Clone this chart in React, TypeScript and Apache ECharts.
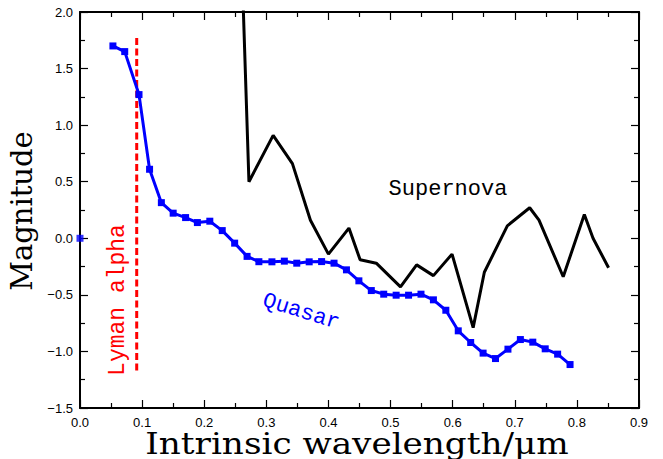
import React, { useEffect, useRef } from "react";
import * as echarts from "echarts";

// Quasar photometry (intrinsic wavelength in µm, magnitude)
const quasarWavelength = [
  0.053, 0.072, 0.095, 0.112, 0.131, 0.150, 0.170, 0.189, 0.209, 0.229,
  0.249, 0.269, 0.288, 0.309, 0.329, 0.349, 0.369, 0.389, 0.409, 0.429,
  0.449, 0.469, 0.489, 0.509, 0.529, 0.549, 0.569, 0.589, 0.609, 0.629,
  0.649, 0.669, 0.689, 0.709, 0.729, 0.749, 0.769, 0.789,
];
const quasarMagnitude = [
  1.70, 1.65, 1.27, 0.61, 0.315, 0.222, 0.183, 0.139, 0.151, 0.068,
  -0.043, -0.16, -0.207, -0.208, -0.202, -0.22, -0.208, -0.206, -0.22, -0.279,
  -0.376, -0.462, -0.494, -0.503, -0.503, -0.494, -0.544, -0.636, -0.818, -0.921,
  -1.015, -1.063, -0.98, -0.895, -0.918, -0.977, -1.024, -1.116,
];

// Isolated reference point at the origin
const originPoint = [0, 0];

// Supernova spectrum (first point lies above the plotted range)
const supernovaWavelength = [
  0.255, 0.272, 0.311, 0.342, 0.371, 0.400, 0.433, 0.451, 0.477, 0.516,
  0.542, 0.569, 0.599, 0.633, 0.651, 0.688, 0.724, 0.739, 0.778, 0.812,
  0.826, 0.851,
];
const supernovaMagnitude = [
  3.36, 0.50, 0.91, 0.66, 0.16, -0.14, 0.09, -0.19, -0.22, -0.43,
  -0.235, -0.33, -0.14, -0.79, -0.30, 0.11, 0.27, 0.16, -0.34, 0.21,
  0.0, -0.26,
];

// Lyman alpha marker line
const lymanAlphaWavelength = 0.0913;
const lymanAlphaRange = [1.77, -1.18];

// Axis ranges
const xRange = [0, 0.9];
const xStep = 0.1;
const yRange = [-1.5, 2.0];
const yStep = 0.5;

const TICK_FONT = "Liberation Sans";
const SERIF = "DejaVu Serif";
const MONO = "Liberation Mono";

const fmt = (v: number) => v.toFixed(1).replace("-", "\u2212");

export default function App() {
  const ref = useRef<HTMLDivElement>(null);

  useEffect(() => {
    if (!ref.current) return;
    const chart = echarts.init(ref.current, undefined, { renderer: "svg" });

    const axisLine = { show: true, onZero: false, lineStyle: { color: "#000", width: 2 } };
    const axisTick = { show: true, inside: true, length: 8, lineStyle: { color: "#000", width: 1.2 } };
    const minorTick = { show: true, splitNumber: 2, length: 5, lineStyle: { color: "#000", width: 1.2 } };

    const xBase = {
      type: "value" as const,
      min: xRange[0],
      max: xRange[1],
      interval: xStep,
      axisLine,
      axisTick,
      minorTick,
      splitLine: { show: false },
    };
    const yBase = {
      type: "value" as const,
      min: yRange[0],
      max: yRange[1],
      interval: yStep,
      axisLine,
      axisTick,
      minorTick,
      splitLine: { show: false },
    };

    const tickLabel = {
      color: "#000",
      fontFamily: TICK_FONT,
      fontSize: 13,
      lineHeight: 13,
      formatter: fmt,
    };

    chart.setOption({
      animation: false,
      backgroundColor: "#fff",
      grid: { left: 80, right: 24, top: 12, bottom: 51, containLabel: false },
      xAxis: [
        { ...xBase, position: "bottom", axisLabel: { ...tickLabel, margin: 8 } },
        { ...xBase, position: "top", axisLabel: { show: false } },
      ],
      yAxis: [
        { ...yBase, position: "left", axisLabel: { ...tickLabel, margin: 7 } },
        { ...yBase, position: "right", axisLabel: { show: false } },
      ],
      series: [
        {
          name: "Lyman alpha",
          type: "line",
          data: lymanAlphaRange.map((m) => [lymanAlphaWavelength, m]),
          symbol: "none",
          lineStyle: { color: "#ff0000", width: 3, type: [7, 3.5] },
          z: 3,
        },
        {
          name: "Supernova",
          type: "line",
          data: supernovaWavelength.map((w, i) => [w, supernovaMagnitude[i]]),
          symbol: "none",
          clip: true,
          lineStyle: { color: "#000", width: 3 },
          z: 4,
        },
        {
          name: "Quasar",
          type: "line",
          data: quasarWavelength.map((w, i) => [w, quasarMagnitude[i]]),
          symbol: "rect",
          symbolSize: 7,
          itemStyle: { color: "#0000ff" },
          lineStyle: { color: "#0000ff", width: 3 },
          z: 5,
        },
        {
          name: "Origin",
          type: "scatter",
          data: [originPoint],
          symbol: "rect",
          symbolSize: 7,
          itemStyle: { color: "#0000ff" },
          z: 5,
        },
      ],
      graphic: [
        {
          type: "text",
          x: 22,
          y: 211,
          rotation: Math.PI / 2,
          style: {
            text: "Magnitude",
            fontFamily: SERIF,
            fontSize: 29,
            fill: "#000",
            align: "center",
            verticalAlign: "middle",
          },
        },
        {
          type: "text",
          x: 357,
          y: 444,
          scaleX: 1.18,
          scaleY: 1,
          style: {
            text: "Intrinsic wavelength/\u03bcm",
            fontFamily: SERIF,
            fontSize: 29,
            fill: "#000",
            align: "center",
            verticalAlign: "middle",
          },
        },
        {
          type: "text",
          x: 448,
          y: 189,
          style: {
            text: "Supernova",
            fontFamily: MONO,
            fontSize: 22,
            fill: "#000",
            align: "center",
            verticalAlign: "middle",
          },
        },
        {
          type: "text",
          x: 301,
          y: 312,
          rotation: -0.3,
          style: {
            text: "Quasar",
            fontFamily: MONO,
            fontSize: 22,
            fill: "#0000ff",
            align: "center",
            verticalAlign: "middle",
          },
        },
        {
          type: "text",
          x: 118,
          y: 300,
          rotation: Math.PI / 2,
          style: {
            text: "Lyman alpha",
            fontFamily: MONO,
            fontSize: 23,
            fill: "#ff0000",
            align: "center",
            verticalAlign: "middle",
          },
        },
      ],
    });

    return () => chart.dispose();
  }, []);

  return <div ref={ref} style={{ width: 663, height: 459, position: "absolute", left: 0, top: 0 }} />;
}
